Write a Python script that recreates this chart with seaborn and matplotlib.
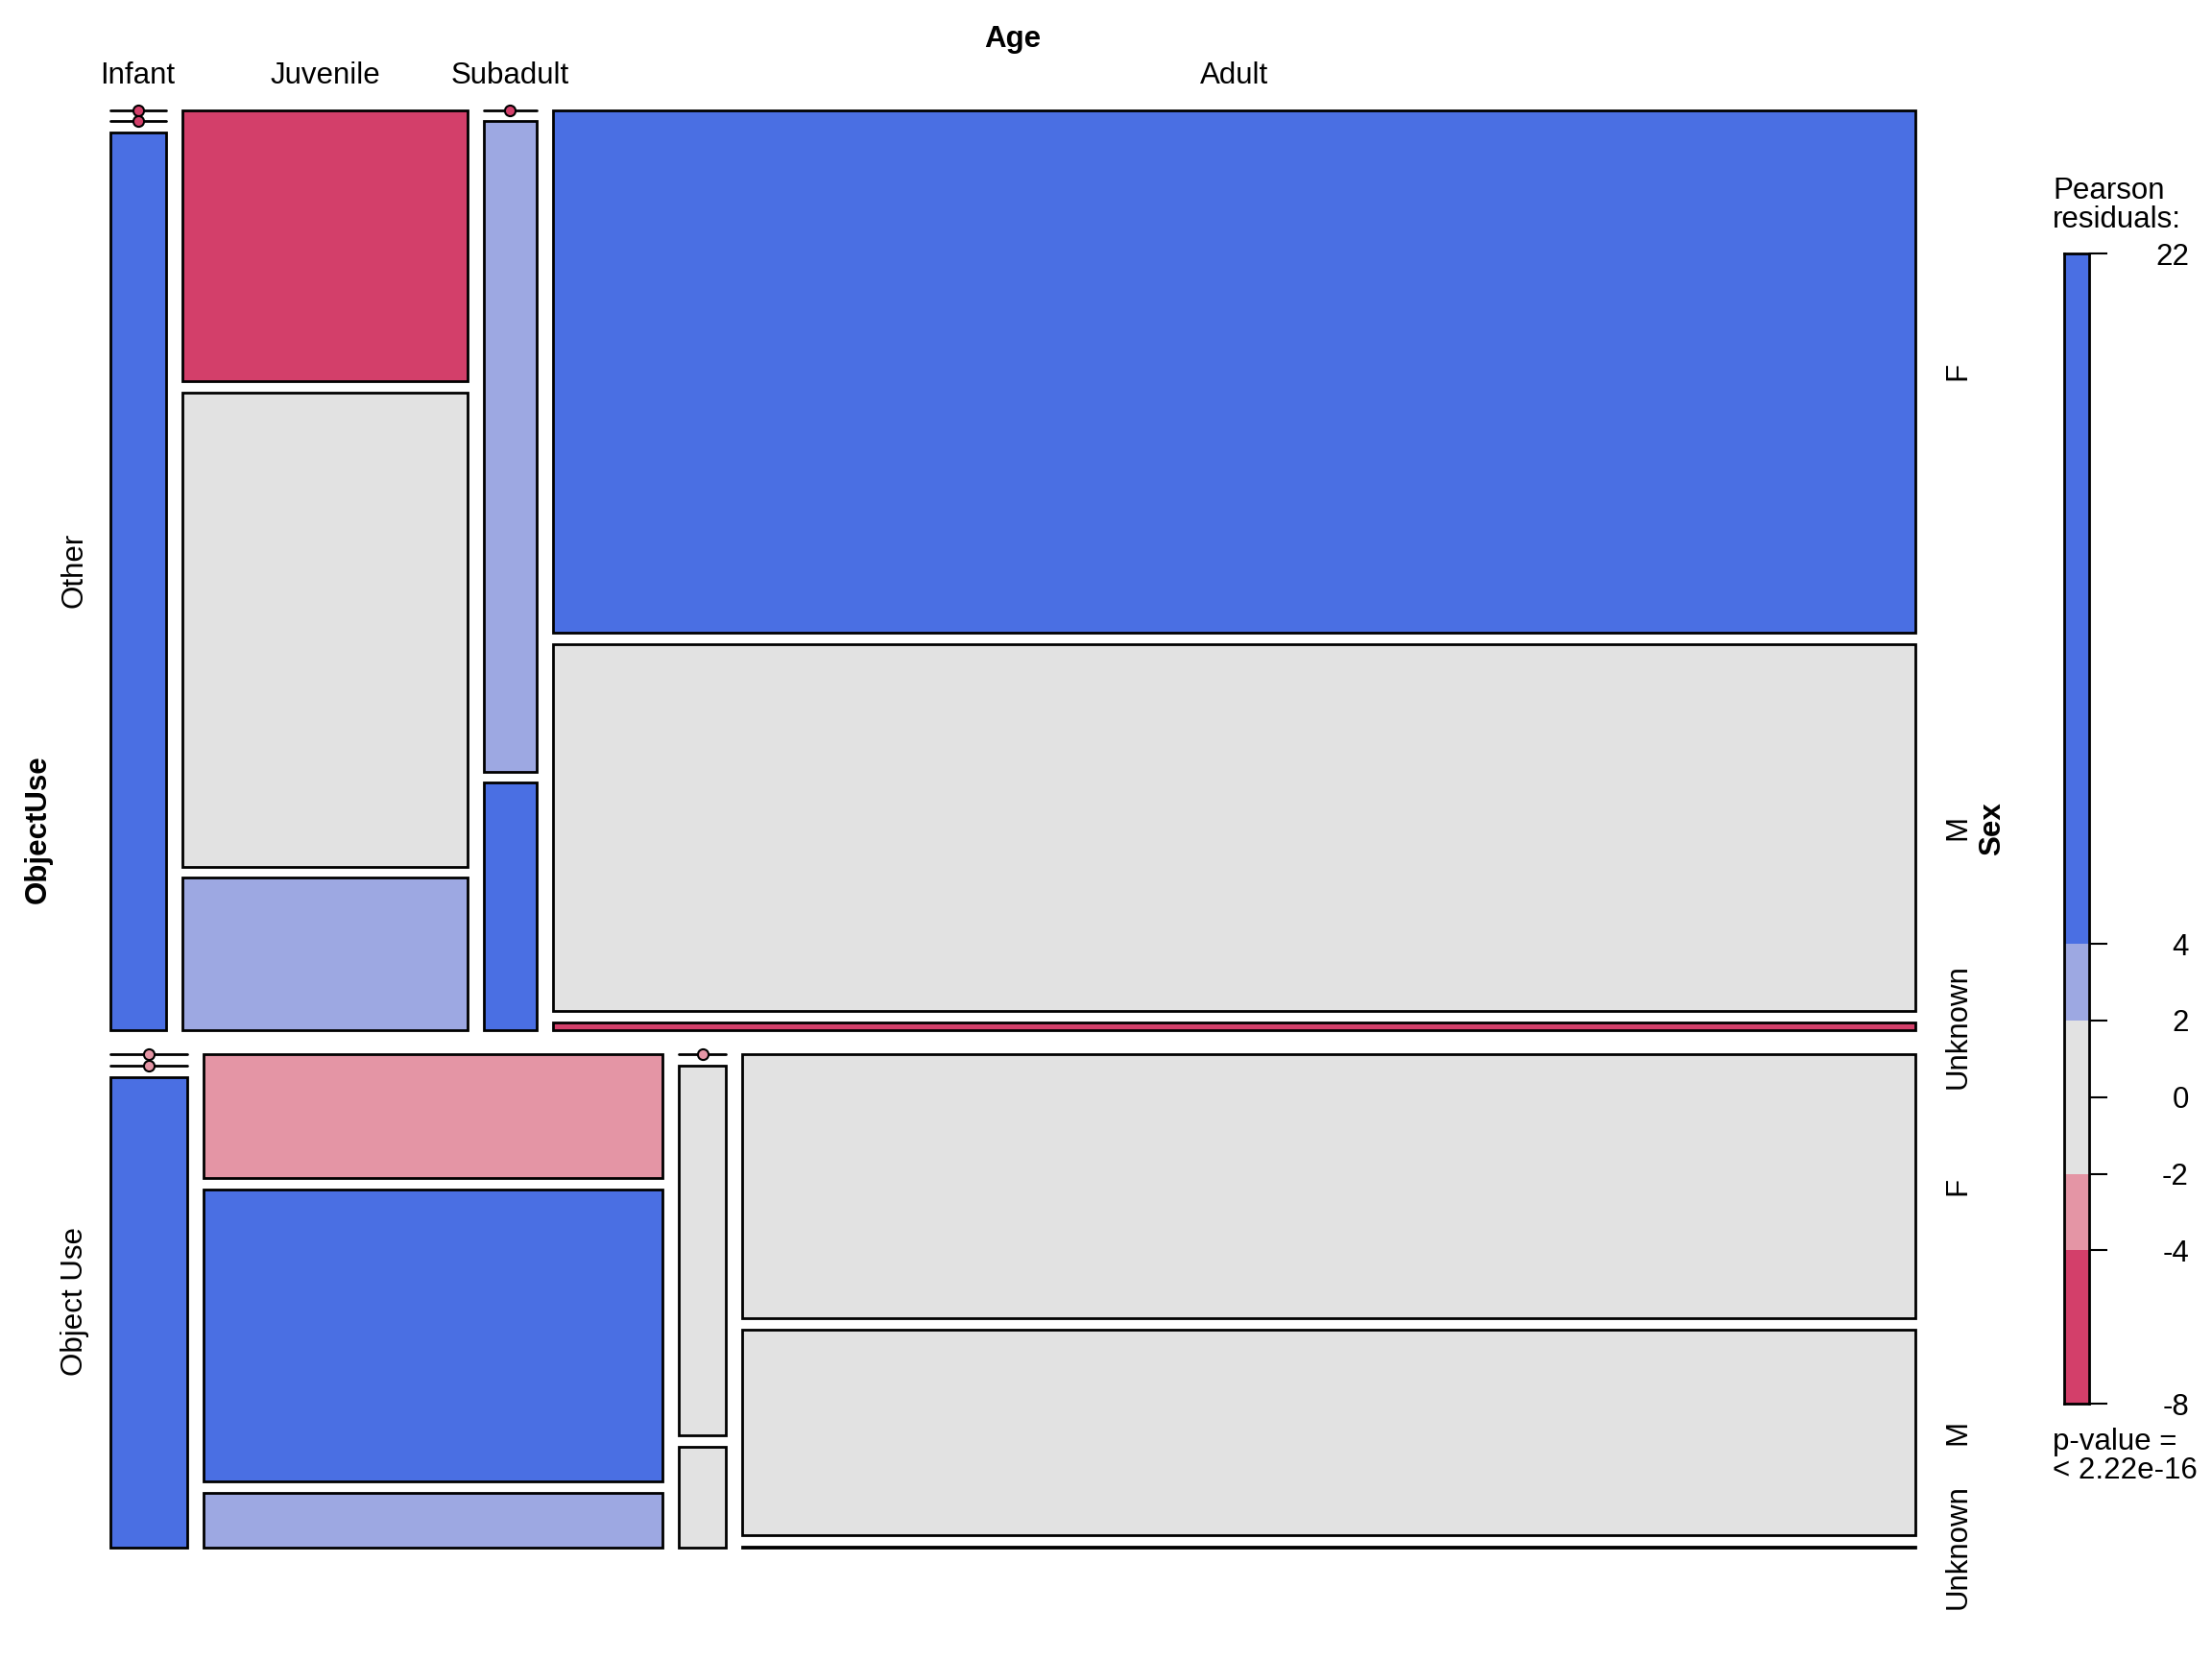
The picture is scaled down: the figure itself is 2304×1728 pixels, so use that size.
import numpy as np
import matplotlib
matplotlib.use('Agg')
import matplotlib.pyplot as plt
import seaborn as sns
from matplotlib.transforms import blended_transform_factory

uses = ['Other', 'Object Use']
ages = ['Infant', 'Juvenile', 'Subadult', 'Adult']
sexes = ['F', 'M', 'Unknown']

counts_other = [[0, 0, 31], [48, 84, 27], [0, 21, 8], [442, 310, 7]]
counts_objuse = [[0, 0, 23], [36, 85, 16], [0, 11, 3], [196, 153, 1]]

# Pearson residuals (estimated from the shading)
resid_other = [[-5, -5, 10], [-6, 0.5, 3], [-5, 3, 6], [22, -1, -8]]
resid_objuse = [[-3, -3, 8], [-3, 7, 3], [-3, 0, 1], [0.5, -1, -1.5]]

legend_breaks = [-8, -4, -2, 2, 4, 22]
legend_ticks = [22, 4, 2, 0, -2, -4, -8]
shade_colors = ['#D33F6A', '#E495A5', '#E2E2E2', '#9DA8E2', '#4A6FE3']


def shade(r):
    return shade_colors[int(np.searchsorted(legend_breaks[1:-1], r, side='right'))]


sns.set_theme(style='white')
plt.rcParams['font.family'] = ['Liberation Sans', 'DejaVu Sans']
plt.rcParams['text.color'] = 'black'
plt.rcParams['ytick.labelcolor'] = 'black'
plt.rcParams['axes.unicode_minus'] = False
FS = 22.5

fig = plt.figure(figsize=(23.04, 17.28), dpi=100)
ax = fig.add_axes([78 / 1568, 1 - 1097 / 1176, 1280 / 1568, 1019 / 1176])
ax.set_xlim(0, 1)
ax.set_ylim(0, 1)
ax.axis('off')
tr_x = blended_transform_factory(ax.transData, fig.transFigure)
tr_y = blended_transform_factory(fig.transFigure, ax.transData)

row_gap, col_gap, sex_gap = 0.0167, 0.0091, 0.00785
tables = [np.array(counts_other), np.array(counts_objuse)]
resids = [resid_other, resid_objuse]
N = sum(t.sum() for t in tables)
row_avail = 1 - row_gap * (len(uses) - 1)

y_top = 1.0
for r, use in enumerate(uses):
    counts = tables[r]
    row_h = counts.sum() / N * row_avail
    col_avail = 1 - col_gap * (len(ages) - 1)
    cell_avail = row_h - sex_gap * (len(sexes) - 1)
    x = 0.0
    for a, age in enumerate(ages):
        col_n = counts[a].sum()
        w = col_n / counts.sum() * col_avail
        y = y_top
        for s, sex in enumerate(sexes):
            n = counts[a][s]
            h = n / col_n * cell_avail
            col = shade(resids[r][a][s])
            if n == 0:
                ax.plot([x, x + w], [y, y], color='black', lw=2, clip_on=False)
                ax.plot(x + w / 2, y, 'o', ms=8, mfc=col, mec='black', mew=1.5, clip_on=False)
            else:
                ax.bar(x, h, width=w, bottom=y - h, align='edge', color=col,
                       edgecolor='black', linewidth=2, clip_on=False)
            if a == len(ages) - 1:
                ax.text(1388 / 1568, y - h / 2, sex, transform=tr_y, rotation=90,
                        ha='center', va='center', fontsize=FS)
            y -= h + sex_gap
        if r == 0:
            ax.text(x + w / 2, 1 - 54 / 1176, age, transform=tr_x,
                    ha='center', va='center', fontsize=FS)
        x += w + col_gap
    ax.text(53 / 1568, y_top - row_h / 2, use, transform=tr_y, rotation=90,
            ha='center', va='center', fontsize=FS)
    y_top -= row_h + row_gap

# variable names
fig.text(718 / 1568, 1 - 28 / 1176, 'Age', ha='center', va='center', fontsize=FS, weight='bold')
ax.text(27 / 1568, 0.5, 'ObjectUse', transform=tr_y, rotation=90,
        ha='center', va='center', fontsize=FS, weight='bold')
ax.text(1412 / 1568, 0.5, 'Sex', transform=tr_y, rotation=90,
        ha='center', va='center', fontsize=FS, weight='bold')

# legend
cax = fig.add_axes([1463 / 1568, 1 - 995 / 1176, 18 / 1568, 815 / 1176])
for lo, hi in zip(legend_breaks[:-1], legend_breaks[1:]):
    cax.bar(0, hi - lo, bottom=lo, width=1, align='edge', color=shade((lo + hi) / 2), linewidth=0)
cax.set_xlim(0, 1)
cax.set_ylim(legend_breaks[0], legend_breaks[-1])
for sp in cax.spines.values():
    sp.set_visible(True)
    sp.set_color('black')
    sp.set_linewidth(2)
cax.set_xticks([])
cax.yaxis.tick_right()
cax.set_yticks(legend_ticks)
cax.tick_params(axis='y', right=True, length=13.7, width=1.5, color='black',
                labelcolor='black', pad=61, labelsize=FS)
for lab in cax.get_yticklabels():
    lab.set_ha('right')

fig.text(1455 / 1568, 1 - 125 / 1176, 'Pearson\nresiduals:', ha='left', va='top',
         fontsize=FS, linespacing=1.0)
fig.text(1455 / 1568, 1 - 1012 / 1176, 'p-value =\n< 2.22e-16', ha='left', va='top',
         fontsize=FS, linespacing=1.0)

fig.savefig('out.png', dpi=100)
